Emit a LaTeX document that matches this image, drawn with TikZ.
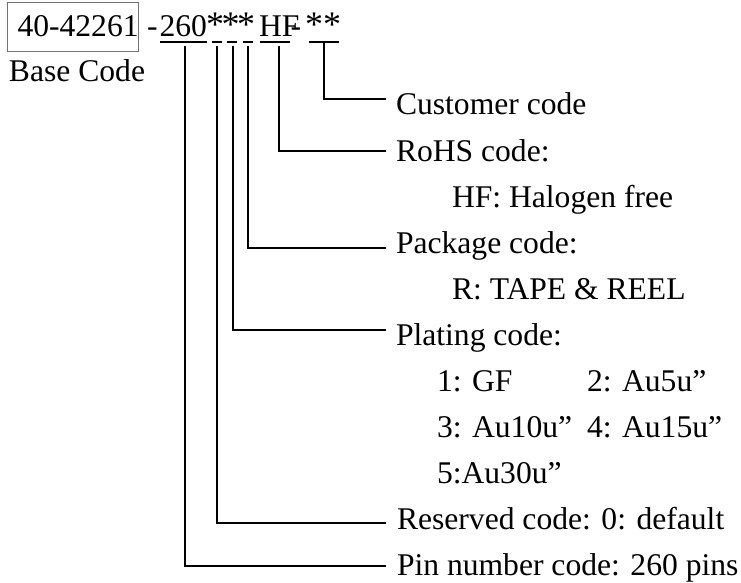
\documentclass[tikz,border=0pt]{standalone}
\usepackage{fontspec}
\setmainfont{Liberation Serif}
\begin{document}
\begin{tikzpicture}[x=1pt,y=-1pt,
  txt/.style={anchor=base west,inner sep=0pt,outer sep=0pt,font=\fontsize{31.6}{37}\selectfont},
  conn/.style={line width=1.6pt,line cap=rect},
  uline/.style={line width=1.8pt}]
\useasboundingbox (0,0) rectangle (741,583);
% base code box
\draw[black!55,line width=1pt] (7,3) rectangle (138.5,52);
\node[txt] (base) at (17.5,37) {40-42261};
\node[txt] (basecap) at (9,82) {Base Code};
% code string
\node[txt] (h1) at (147,37) {-};
\node[txt] (n260) at (159.5,37) {260};
\node[txt] (s1) at (206,37) {\fontsize{36}{37}\selectfont *};
\node[txt] (s2) at (221.5,37) {\fontsize{36}{37}\selectfont *};
\node[txt] (s3) at (237,37) {\fontsize{36}{37}\selectfont *};
\node[txt] (hf) at (259,37) {HF};
\node[txt] (h2) at (290.5,37) {-};
\node[txt] (cc) at (305,37) {\fontsize{36}{37}\selectfont **};
% underlines
\coordinate (u1a) at (160,42); \coordinate (u1b) at (207,42);
\coordinate (u2a) at (212,42); \coordinate (u2b) at (222,42);
\coordinate (u3a) at (227,42); \coordinate (u3b) at (237,42);
\coordinate (u4a) at (243,42); \coordinate (u4b) at (253,42);
\coordinate (u5a) at (260,42); \coordinate (u5b) at (290,42);
\coordinate (u6a) at (309,42); \coordinate (u6b) at (339,42);
\foreach \i in {1,...,6} \draw[uline] (u\i a) -- (u\i b);
% labels
\node[txt] (cust) at (396,115) {Customer code};
\node[txt] (rohs) at (396,161) {RoHS code:};
\node[txt] (hfl) at (452,207) {HF: Halogen free};
\node[txt] (pack) at (396,253) {Package code:};
\node[txt] (reel) at (452,299) {R: TAPE \& REEL};
\node[txt] (plat) at (396,345) {Plating code:};
\node[txt] (p1) at (437,391) {1: GF};
\node[txt] (p2) at (587,391) {2: Au5u”};
\node[txt] (p3) at (437,437) {3: Au10u”};
\node[txt] (p4) at (587,437) {4: Au15u”};
\node[txt] (p5) at (437,483) {5:Au30u”};
\node[txt] (resv) at (397,529) {Reserved code: 0: default};
\node[txt] (pin) at (397,575) {Pin number code: 260 pins};
% connector start and end points
\coordinate (tpin) at (185,47);  \coordinate (epin) at (385,566);
\coordinate (tres) at (217,47);  \coordinate (eres) at (385,523);
\coordinate (tplat) at (233,47); \coordinate (eplat) at (385,330);
\coordinate (tpack) at (248,47); \coordinate (epack) at (385,248);
\coordinate (trohs) at (279,47); \coordinate (erohs) at (385,151);
\coordinate (tcust) at (324,42); \coordinate (ecust) at (385,99);
\draw[conn] (tpin) |- (epin);
\draw[conn] (tres) |- (eres);
\draw[conn] (tplat) |- (eplat);
\draw[conn] (tpack) |- (epack);
\draw[conn] (trohs) |- (erohs);
\draw[conn] (tcust) |- (ecust);
\end{tikzpicture}
\end{document}
